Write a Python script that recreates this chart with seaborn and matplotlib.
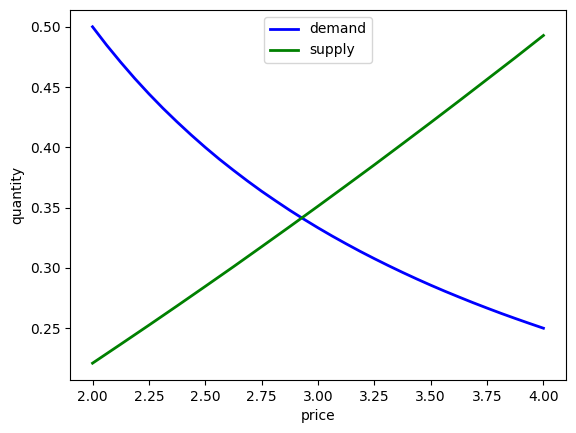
import matplotlib
matplotlib.use("Agg")
import matplotlib.pyplot as plt
import seaborn as sns

# demand curve
demand_price = [2.0, 2.0625, 2.125, 2.1875, 2.25, 2.3125, 2.375, 2.4375, 2.5,
                2.5625, 2.625, 2.6875, 2.75, 2.8125, 2.875, 2.9375, 3.0,
                3.0625, 3.125, 3.1875, 3.25, 3.3125, 3.375, 3.4375, 3.5,
                3.5625, 3.625, 3.6875, 3.75, 3.8125, 3.875, 3.9375, 4.0]
demand = [0.5000, 0.4848, 0.4706, 0.4571, 0.4444, 0.4324, 0.4211, 0.4103, 0.4000,
          0.3902, 0.3810, 0.3721, 0.3636, 0.3556, 0.3478, 0.3404, 0.3333,
          0.3265, 0.3200, 0.3137, 0.3077, 0.3019, 0.2963, 0.2909, 0.2857,
          0.2807, 0.2759, 0.2712, 0.2667, 0.2623, 0.2581, 0.2540, 0.2500]

# supply curve
supply_price = [2.0, 2.125, 2.25, 2.375, 2.5, 2.625, 2.75, 2.875, 3.0,
                3.125, 3.25, 3.375, 3.5, 3.625, 3.75, 3.875, 4.0]
supply = [0.221, 0.2367, 0.2525, 0.2685, 0.2847, 0.3010, 0.3176, 0.3343, 0.3512,
          0.3683, 0.3855, 0.4030, 0.4206, 0.4384, 0.4564, 0.4744, 0.4928]

fig, ax = plt.subplots(figsize=(5.76, 4.33), dpi=100)
fig.subplots_adjust(left=0.1215, right=0.9826, top=0.977, bottom=0.1224)

sns.lineplot(x=demand_price, y=demand, color="blue", linewidth=2, label="demand", ax=ax)
sns.lineplot(x=supply_price, y=supply, color="green", linewidth=2, label="supply", ax=ax)

ax.set_xlabel("price")
ax.set_ylabel("quantity")
ax.legend(loc="upper center")

fig.savefig("out.png", dpi=100)
